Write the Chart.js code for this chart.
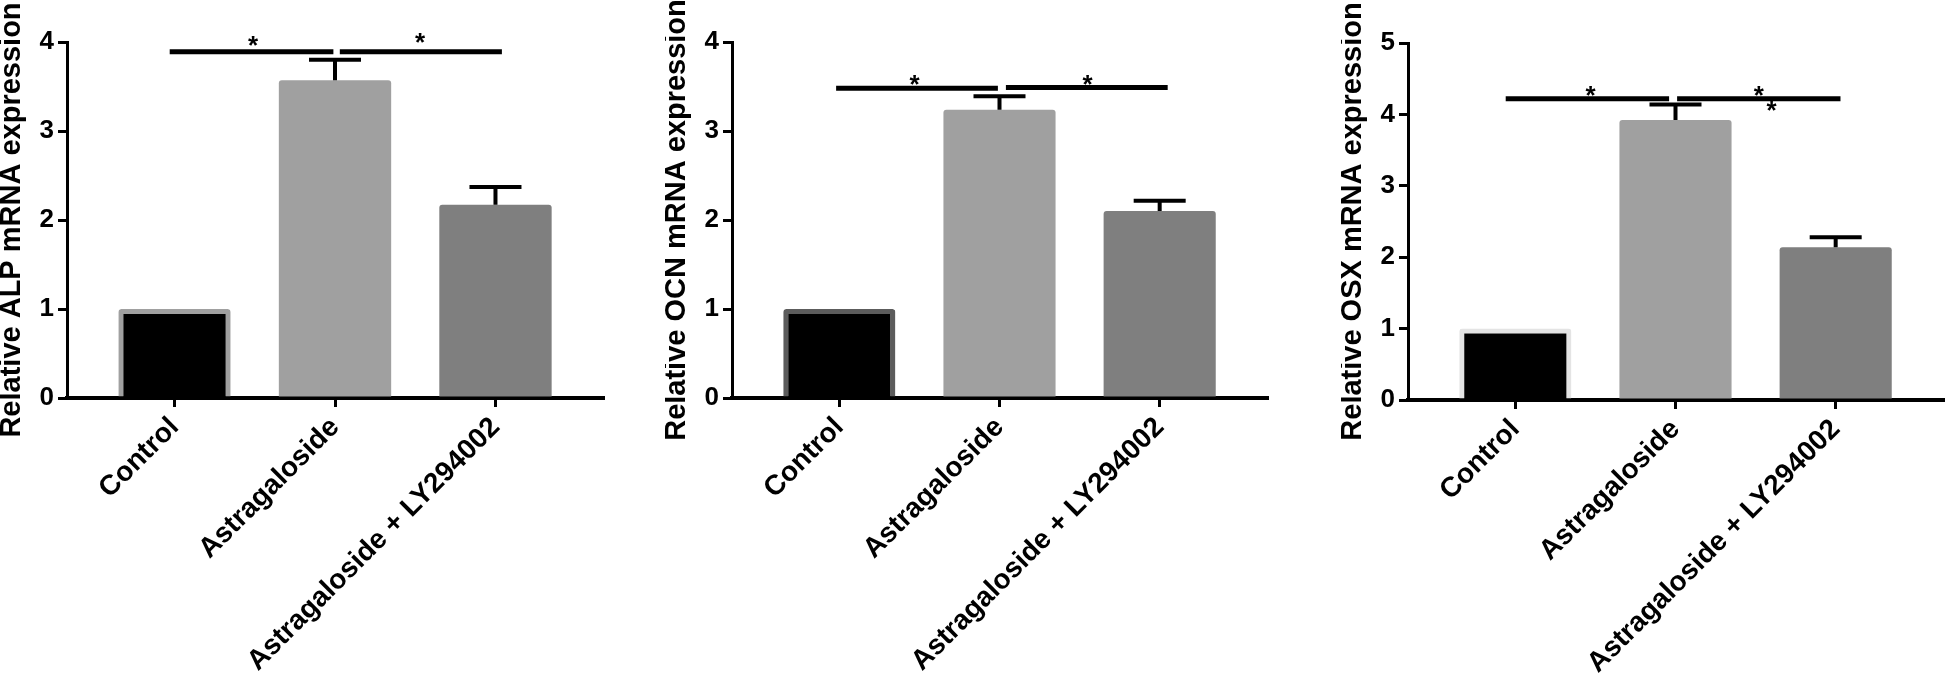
<!DOCTYPE html>
<html>
<head>
<meta charset="utf-8">
<script src="https://cdn.jsdelivr.net/npm/chart.js@4.4.0/dist/chart.umd.min.js"></script>
<title>mRNA expression</title>
<style>
  body { margin: 0; width: 1946px; height: 676px; background: #fff; position: relative; overflow: hidden; }
  .panel { position: absolute; top: 0; height: 676px; }
</style>
</head>
<body>
<div class="panel" style="left:0px; width:620px"><canvas id="alp"></canvas></div>
<div class="panel" style="left:665px; width:620px"><canvas id="ocn"></canvas></div>
<div class="panel" style="left:1341px; width:605px"><canvas id="osx"></canvas></div>
<script>
// groups on the x axis
const categories = ['Control', 'Astragaloside', 'Astragaloside + LY294002'];

// ALP
const alpMeans = [1.0, 3.57, 2.17];
const alpErrors = [0, 0.23, 0.20];
const alpTicks = [0, 1, 2, 3, 4];
const alpLines = [[-0.03, 0.99, 3.89], [1.03, 2.04, 3.89]];   // [from, to, y]
const alpStars = [[0.49, 4.03], [1.53, 4.06]];                 // [x, y]

// OCN
const ocnMeans = [1.0, 3.24, 2.10];
const ocnErrors = [0, 0.15, 0.115];
const ocnTicks = [0, 1, 2, 3, 4];
const ocnLines = [[-0.02, 0.99, 3.48], [1.04, 2.05, 3.49]];
const ocnStars = [[0.47, 3.59], [1.55, 3.59]];

// OSX
const osxMeans = [1.0, 3.92, 2.14];
const osxErrors = [0, 0.22, 0.14];
const osxTicks = [0, 1, 2, 3, 4, 5];
const osxLines = [[-0.06, 0.96, 4.22], [1.01, 2.03, 4.22]];
const osxStars = [[0.47, 4.35], [1.52, 4.35], [1.60, 4.14]];

const FONT = '"Liberation Sans", Arial, sans-serif';

function extras(means, errors, lines, stars) {
  return {
    id: 'extras',
    afterDatasetsDraw(chart) {
      const ctx = chart.ctx, xs = chart.scales.x, ys = chart.scales.y;
      ctx.save();
      ctx.strokeStyle = '#000';
      ctx.lineWidth = 4;
      means.forEach((m, i) => {
        if (!errors[i]) return;
        const px = xs.getPixelForValue(i);
        const y0 = ys.getPixelForValue(m), y1 = ys.getPixelForValue(m + errors[i]);
        ctx.beginPath();
        ctx.moveTo(px, y0); ctx.lineTo(px, y1);
        ctx.moveTo(px - 26, y1); ctx.lineTo(px + 26, y1);
        ctx.stroke();
      });
      ctx.lineWidth = 5;
      lines.forEach(([a, b, v]) => {
        const py = ys.getPixelForValue(v);
        ctx.beginPath();
        ctx.moveTo(xs.getPixelForValue(a), py);
        ctx.lineTo(xs.getPixelForValue(b), py);
        ctx.stroke();
      });
      ctx.fillStyle = '#000';
      ctx.font = 'bold 26px ' + FONT;
      ctx.textAlign = 'center';
      ctx.textBaseline = 'alphabetic';
      stars.forEach(([sx, sv]) => {
        ctx.fillText('*', xs.getPixelForValue(sx), ys.getPixelForValue(sv) + 0.57 * 26);
      });
      ctx.restore();
    }
  };
}

function makeChart(id, title, means, errors, ticks, lines, stars, ctrlBorder, top, bottom, rightPad) {
  new Chart(document.getElementById(id), {
    type: 'bar',
    data: {
      datasets: [{
        data: means.map((v, i) => ({ x: i, y: v })),
        backgroundColor: ['#000000', '#a0a0a0', '#7f7f7f'],
        borderColor: [ctrlBorder, '#a0a0a0', '#7f7f7f'],
        borderWidth: [5, 0, 0],
        borderSkipped: 'start',
        borderRadius: 3,
        barPercentage: 0.7,
        categoryPercentage: 1
      }]
    },
    options: {
      responsive: true,
      maintainAspectRatio: false,
      animation: false,
      layout: { padding: { top: top, right: rightPad, left: 0, bottom: 0 } },
      plugins: { legend: { display: false }, tooltip: { enabled: false } },
      scales: {
        x: {
          type: 'linear',
          min: -0.67,
          max: 2.67,
          offset: false,
          afterBuildTicks: s => { s.ticks = [0, 1, 2].map(v => ({ value: v })); },
          afterFit: s => { s.height = 676 - bottom; },
          grid: { offset: false, drawOnChartArea: false, drawTicks: true, tickLength: 9, lineWidth: 3, color: '#000' },
          border: { display: true, width: 4, color: '#000' },
          ticks: {
            autoSkip: false, minRotation: 45, maxRotation: 45, padding: 4, color: '#000',
            font: { family: FONT, size: 28, weight: 'bold' },
            callback: v => categories[v]
          }
        },
        y: {
          min: 0,
          max: ticks[ticks.length - 1],
          afterBuildTicks: s => { s.ticks = ticks.map(v => ({ value: v })); },
          afterFit: s => { s.width = 67; },
          grid: { drawOnChartArea: false, drawTicks: true, tickLength: 9, lineWidth: 3, color: '#000' },
          border: { display: true, width: 3, color: '#000' },
          ticks: { padding: 4, color: '#000', font: { family: FONT, size: 26, weight: 'bold' } },
          title: {
            display: true, text: title, color: '#000', padding: 0,
            font: { family: FONT, size: 29, weight: 'bold', lineHeight: 0.83 }
          }
        }
      }
    },
    plugins: [extras(means, errors, lines, stars)]
  });
}

makeChart('alp', 'Relative ALP mRNA expression', alpMeans, alpErrors, alpTicks, alpLines, alpStars, '#a0a0a0', 42, 398, 17);
makeChart('ocn', 'Relative OCN mRNA expression', ocnMeans, ocnErrors, ocnTicks, ocnLines, ocnStars, '#5c5c5c', 42, 398, 18);
makeChart('osx', 'Relative OSX mRNA expression', osxMeans, osxErrors, osxTicks, osxLines, osxStars, '#e4e4e4', 43, 400, 3);
</script>
</body>
</html>
